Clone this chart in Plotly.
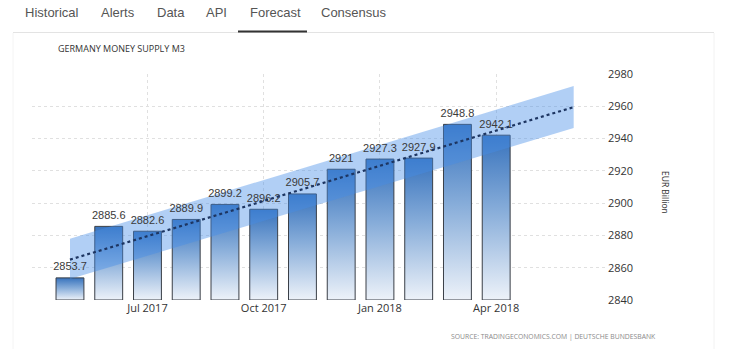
import plotly.graph_objects as go

# Germany money supply M3, EUR billion, monthly
months = ["May 2017", "Jun 2017", "Jul 2017", "Aug 2017", "Sep 2017", "Oct 2017",
          "Nov 2017", "Dec 2017", "Jan 2018", "Feb 2018", "Mar 2018", "Apr 2018"]
values = [2853.7, 2885.6, 2882.6, 2889.9, 2899.2, 2896.2,
          2905.7, 2921.0, 2927.3, 2927.9, 2948.8, 2942.1]

# Forecast trend with its range, from May 2017 to Jun 2018 (month index 0 and 13)
forecast_idx = [0, 13]
trend = [2865.0, 2959.5]
upper = [2878.0, 2972.5]
lower = [2853.0, 2946.5]

tick_months = ["Jul 2017", "Oct 2017", "Jan 2018", "Apr 2018"]
y_ticks = [2840, 2860, 2880, 2900, 2920, 2940, 2960, 2980]

tabs = ["Historical", "Alerts", "Data", "API", "Forecast", "Consensus"]
tab_x = [23, 99, 155, 204, 248, 319]

W, H = 729, 349
ML, MR, MT, MB = 32, 122, 74, 49
PW, PH = W - ML - MR, H - MT - MB
BASE = y_ticks[0]
BAR_W = 0.72


def px(x):
    return (x - ML) / PW


def py(y):
    return (H - MB - y) / PH


fig = go.Figure()

# Bars with a vertical gradient fill, one polygon per month
for i, v in enumerate(values):
    x0, x1 = i - BAR_W / 2, i + BAR_W / 2
    fig.add_trace(go.Scatter(
        x=[x0, x0, x1, x1, x0], y=[BASE, v, v, BASE, BASE],
        mode="lines", fill="toself",
        line=dict(color="#3a3f47", width=1),
        fillgradient=dict(type="vertical",
                          colorscale=[[0, "#edf2f9"], [0.55, "#86acd9"], [1, "#3873bd"]],
                          start=BASE, stop=v),
        hoverinfo="skip", showlegend=False,
    ))

# Forecast range band
fig.add_trace(go.Scatter(
    x=forecast_idx + forecast_idx[::-1], y=upper + lower[::-1],
    mode="lines", fill="toself", fillcolor="rgba(70,140,230,0.42)",
    line=dict(width=0), hoverinfo="skip", showlegend=False,
))

# Value labels above the bars (invisible markers push the text up a little)
fig.add_trace(go.Scatter(
    x=list(range(len(values))), y=values, mode="markers+text",
    marker=dict(size=6, opacity=0),
    text=[f"{v:g}" for v in values], textposition="top center",
    textfont=dict(family="Liberation Sans", size=11, color="#3a3a3a"),
    hoverinfo="skip", showlegend=False,
))

# Trend line
fig.add_trace(go.Scatter(
    x=forecast_idx, y=trend, mode="lines",
    line=dict(color="#1d3561", width=2.2, dash="dot"),
    hoverinfo="skip", showlegend=False,
))

grid = dict(showgrid=True, gridcolor="#e0e0e0", griddash="dot", gridwidth=1)

fig.update_xaxes(
    range=[-0.98, 13.86],
    tickvals=[months.index(m) for m in tick_months], ticktext=tick_months,
    tickfont=dict(family="Open Sans", size=11, color="#333333"),
    zeroline=False, showline=False, ticks="", **grid,
)
fig.update_yaxes(
    range=[y_ticks[0], y_ticks[-1]], tickvals=y_ticks, side="right",
    tickfont=dict(family="Open Sans", size=11, color="#333333"),
    zeroline=False, showline=False, ticks="", ticklabelstandoff=0, **grid,
)

annotations = []
for t, x in zip(tabs, tab_x):
    annotations.append(dict(
        x=px(x), y=py(13), xref="paper", yref="paper", text=t, showarrow=False,
        xanchor="left", yanchor="middle",
        font=dict(family="Liberation Sans", size=13, color="#555555"),
    ))
annotations += [
    dict(x=px(56), y=py(48), xref="paper", yref="paper", text="GERMANY MONEY SUPPLY M3",
         showarrow=False, xanchor="left", yanchor="middle",
         font=dict(family="Open Sans", size=9, color="#333333")),
    dict(x=px(666), y=py(192), xref="paper", yref="paper", text="EUR Billion",
         showarrow=False, textangle=90, xanchor="center", yanchor="middle",
         font=dict(family="Open Sans", size=8.5, color="#333333")),
    dict(x=px(449), y=py(336), xref="paper", yref="paper",
         text="SOURCE: TRADINGECONOMICS.COM | DEUTSCHE BUNDESBANK",
         showarrow=False, xanchor="left", yanchor="middle",
         font=dict(family="Open Sans", size=6.8, color="#8a8a8a")),
]

shapes = [
    dict(type="line", xref="paper", yref="paper", x0=px(13), x1=px(714), y0=py(32.5), y1=py(32.5),
         line=dict(color="#e3e3e3", width=1)),
    dict(type="line", xref="paper", yref="paper", x0=px(13), x1=px(13), y0=py(33), y1=py(349),
         line=dict(color="#f4f4f4", width=1)),
    dict(type="line", xref="paper", yref="paper", x0=px(714), x1=px(714), y0=py(33), y1=py(349),
         line=dict(color="#f2f2f2", width=1)),
    dict(type="line", xref="paper", yref="paper", x0=px(238), x1=px(307), y0=py(31.5), y1=py(31.5),
         line=dict(color="#333333", width=2)),
]

fig.update_layout(
    width=W, height=H,
    margin=dict(l=ML, r=MR, t=MT, b=MB),
    paper_bgcolor="white", plot_bgcolor="white",
    annotations=annotations, shapes=shapes, showlegend=False,
)

fig.write_html("out.html")
